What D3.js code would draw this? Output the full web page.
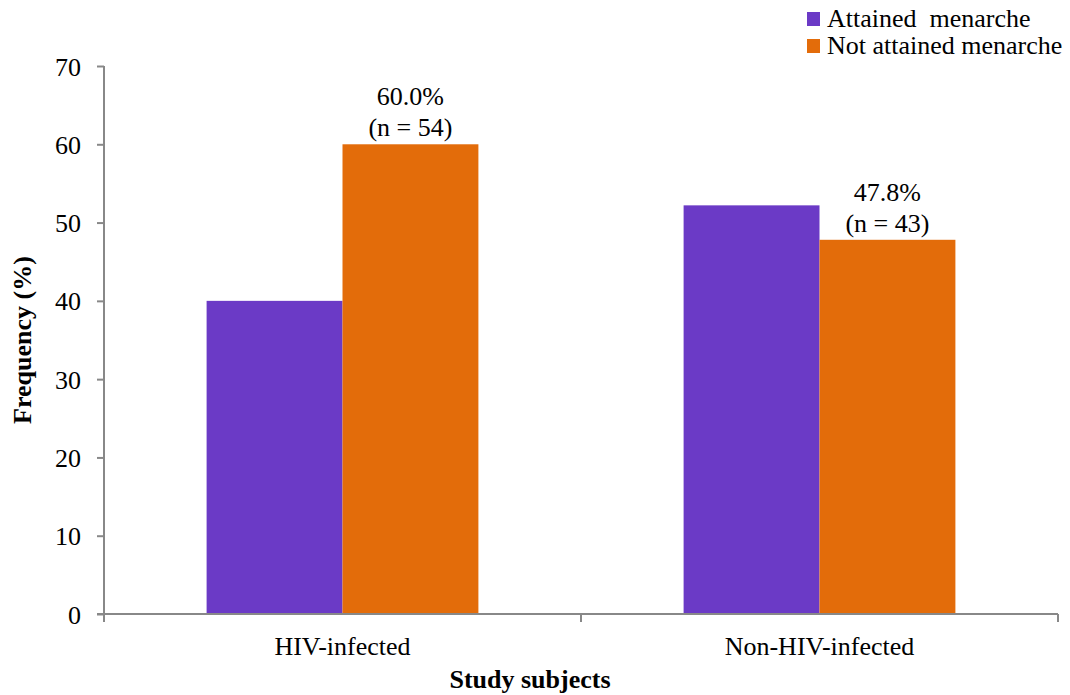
<!DOCTYPE html>
<html><head><meta charset="utf-8">
<script src="https://cdn.jsdelivr.net/npm/d3@7"></script>
<style>body{margin:0;background:#fff}svg text{font-family:"Liberation Serif","Times New Roman",serif}</style>
</head><body><svg id="c" width="1070" height="695"></svg>
<script>
const categories = ["HIV-infected", "Non-HIV-infected"];
const seriesNames = ["Attained  menarche", "Not attained menarche"];
const attained = [40.0, 52.2];
const notAttained = [60.0, 47.8];
const notAttainedLabels = [["60.0%", "(n = 54)"], ["47.8%", "(n = 43)"]];
const yTicks = [0, 10, 20, 30, 40, 50, 60, 70];
const colors = ["#6B3AC6", "#E36C0A"];

(function () {
const FONT = "Liberation Serif, Times New Roman, serif";
const FS = 26;
const svg = d3.select("#c");
const mLeft = 104, mRight = 1058, mTop = 66, mBottom = 614;
const axisColor = "#888";
const x0 = d3.scaleBand().domain(categories).range([mLeft, mRight]).padding(0);
const x1 = d3.scaleBand().domain(seriesNames).range([0, x0.bandwidth()]).paddingInner(0).paddingOuter(0.755);
const y = d3.scaleLinear().domain([0, 70]).range([mBottom, mTop]);
const series = [attained, notAttained];

categories.forEach((c, i) => {
  series.forEach((s, j) => {
    svg.append("rect")
      .attr("x", x0(c) + x1(seriesNames[j]))
      .attr("y", y(s[i]))
      .attr("width", x1.bandwidth())
      .attr("height", y(0) - y(s[i]))
      .attr("fill", colors[j]);
  });
  const lx = x0(c) + x1(seriesNames[1]) + x1.bandwidth() / 2;
  const ly = y(notAttained[i]);
  svg.append("text").attr("x", lx).attr("y", ly - 39).attr("text-anchor", "middle")
    .attr("font-family", FONT).attr("font-size", FS).text(notAttainedLabels[i][0]);
  svg.append("text").attr("x", lx).attr("y", ly - 8).attr("text-anchor", "middle")
    .attr("font-family", FONT).attr("font-size", FS).text(notAttainedLabels[i][1]);
});

const yAxis = svg.append("g").attr("transform", `translate(${mLeft},0)`)
  .call(d3.axisLeft(y).tickValues(yTicks).tickSize(7).tickPadding(16));
yAxis.attr("font-family", FONT).attr("font-size", FS);
yAxis.select(".domain").attr("stroke", axisColor).attr("stroke-width", 2).attr("d", `M0,${mTop}V${mBottom}`);
yAxis.selectAll(".tick line").attr("stroke", axisColor).attr("stroke-width", 2);
yAxis.selectAll(".tick text").attr("fill", "#000").attr("dy", "0.35em");

const xAxis = svg.append("g").attr("transform", `translate(0,${mBottom})`)
  .call(d3.axisBottom(x0).tickSize(0).tickPadding(23));
xAxis.attr("font-family", FONT).attr("font-size", FS);
xAxis.select(".domain").attr("stroke", axisColor).attr("stroke-width", 2).attr("d", `M${mLeft - 7},0H${mRight}`);
xAxis.selectAll(".tick text").attr("fill", "#000").attr("dy", "0.71em");
const bounds = [mLeft, ...categories.map(c => x0(c) + x0.bandwidth())];
bounds.forEach(b => {
  xAxis.append("line").attr("x1", b).attr("x2", b).attr("y1", 0).attr("y2", 8)
    .attr("stroke", axisColor).attr("stroke-width", 2);
});

svg.append("text").attr("x", 530).attr("y", 688).attr("text-anchor", "middle")
  .attr("font-family", FONT).attr("font-size", FS).attr("font-weight", "bold").text("Study subjects");
svg.append("text").attr("transform", "translate(31,340) rotate(-90)").attr("text-anchor", "middle")
  .attr("font-family", FONT).attr("font-size", FS).attr("font-weight", "bold").text("Frequency (%)");

seriesNames.forEach((n, j) => {
  const ly = 12 + j * 27;
  svg.append("rect").attr("x", 807).attr("y", ly).attr("width", 13).attr("height", 14).attr("fill", colors[j]);
  svg.append("text").attr("x", 827).attr("y", ly + 15).attr("font-family", FONT).attr("font-size", FS)
    .attr("xml:space", "preserve").style("white-space", "pre").text(n);
});
})();
</script></body></html>
